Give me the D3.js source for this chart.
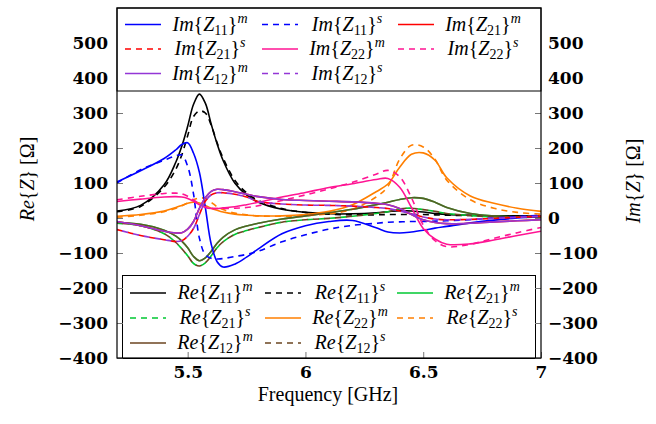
<!DOCTYPE html>
<html>
<head>
<meta charset="utf-8">
<script src="https://cdn.jsdelivr.net/npm/d3@7"></script>
<style>
  body { margin: 0; background: #fff; }
  svg { display: block; }
</style>
</head>
<body>
<svg id="chart" width="656" height="424"></svg>
<script>
// frequency grid (GHz) shared by all traces
const freq = [5.2, 5.3, 5.4, 5.45, 5.475, 5.5, 5.525, 5.55, 5.575, 5.6, 5.625, 5.65, 5.7, 5.75, 5.8,
              5.9, 6.0, 6.1, 6.2, 6.3, 6.35, 6.4, 6.45, 6.5, 6.55, 6.6, 6.7, 6.8, 6.9, 7.0];

// real parts (left axis)
const reZ11m = [20, 36, 95, 160, 205, 262, 325, 354, 328, 268, 212, 165, 100, 66, 45, 25, 16, 12, 12, 15, 18, 21, 20, 17, 13, 10, 8, 6, 6, 5];
const reZ11s = [18, 33, 88, 140, 180, 235, 290, 306, 300, 265, 215, 172, 108, 72, 50, 27, 16, 11, 9, 9, 10, 10, 10, 10, 9, 8, 7, 6, 5, 5];
const reZ21m = [-13, -18, -35, -52, -66, -85, -110, -122, -114, -95, -72, -55, -34, -23, -15, -3, 6, 15, 25, 38, 45, 53, 58, 56, 45, 30, 13, 6, 3, 2];
const reZ21s = [-15, -22, -45, -70, -88, -108, -130, -137, -128, -108, -85, -68, -47, -36, -27, -12, -5, -1, 5, 13, 18, 26, 28, 24, 19, 13, 7, 3, 2, 2];
const reZ22m = [5, 10, 20, 30, 36, 42, 45, 43, 36, 28, 22, 17, 11, 8, 6, 6, 10, 19, 38, 75, 97, 145, 182, 186, 165, 115, 63, 42, 28, 19];
const reZ22s = [2, 8, 18, 28, 35, 43, 52, 57, 56, 45, 32, 24, 14, 9, 6, 5, 7, 12, 25, 60, 90, 168, 208, 203, 168, 108, 52, 28, 16, 11];
const reZ12m = [-13, -18, -35, -52, -66, -85, -110, -122, -114, -95, -72, -55, -34, -23, -15, -3, 6, 15, 25, 38, 45, 53, 58, 56, 45, 30, 13, 6, 3, 2];
const reZ12s = [-15, -22, -45, -70, -88, -108, -130, -137, -128, -108, -85, -68, -47, -36, -27, -12, -5, -1, 5, 13, 18, 26, 28, 24, 19, 13, 7, 3, 2, 2];

// imaginary parts (right axis)
const imZ11m = [103, 135, 170, 195, 210, 215, 185, 130, 30, -75, -125, -140, -132, -112, -88, -45, -22, -10, -7, -28, -40, -43, -40, -35, -29, -24, -14, -6, 0, 5];
const imZ11s = [100, 138, 165, 178, 180, 148, 68, -58, -105, -115, -117, -116, -110, -104, -95, -68, -48, -32, -21, -15, -12, -11, -10, -10, -9, -8, -5, 0, 4, 8];
const imZ21m = [-10, -22, -38, -43, -42, -32, -10, 28, 58, 76, 82, 81, 75, 68, 61, 53, 50, 48, 46, 42, 38, 27, 10, -5, -13, -16, -15, -11, -8, -5];
const imZ21s = [-33, -50, -62, -67, -65, -52, -30, 10, 48, 66, 72, 72, 68, 60, 47, 40, 37, 36, 34, 30, 27, 20, 12, 3, -3, -5, -4, -1, 2, 5];
const imZ22m = [47, 54, 60, 61, 60, 56, 48, 38, 30, 27, 27, 29, 32, 38, 45, 60, 73, 87, 98, 110, 113, 88, 30, -30, -60, -75, -74, -63, -50, -38];
const imZ22s = [52, 62, 70, 71, 69, 62, 52, 40, 32, 28, 27, 27, 28, 30, 35, 50, 66, 83, 102, 125, 136, 118, 58, -20, -65, -82, -75, -58, -42, -27];
const imZ12m = [-10, -22, -38, -43, -42, -32, -10, 28, 58, 76, 82, 81, 75, 68, 61, 53, 50, 48, 46, 42, 38, 27, 10, -5, -13, -16, -15, -11, -8, -5];
const imZ12s = [-33, -50, -62, -67, -65, -52, -30, 10, 48, 66, 72, 72, 68, 60, 47, 40, 37, 36, 34, 30, 27, 20, 12, 3, -3, -5, -4, -1, 2, 5];

const yTicks = [-400, -300, -200, -100, 0, 100, 200, 300, 400, 500];
const xTicks = [5.5, 6, 6.5, 7];

const colors = { blue: "#0000ff", red: "#ff0000", pink: "#ff1493", purple: "#9436d6",
                 black: "#000000", green: "#00c832", orange: "#ff7f00", brown: "#6b4520" };

const reSeries = [
  { part: "Re", sub: "11", sup: "m", values: reZ11m, color: colors.black, dashed: false },
  { part: "Re", sub: "11", sup: "s", values: reZ11s, color: colors.black, dashed: true },
  { part: "Re", sub: "21", sup: "m", values: reZ21m, color: colors.green, dashed: false },
  { part: "Re", sub: "21", sup: "s", values: reZ21s, color: colors.green, dashed: true },
  { part: "Re", sub: "22", sup: "m", values: reZ22m, color: colors.orange, dashed: false },
  { part: "Re", sub: "22", sup: "s", values: reZ22s, color: colors.orange, dashed: true },
  { part: "Re", sub: "12", sup: "m", values: reZ12m, color: colors.brown, dashed: false, op: 0.8 },
  { part: "Re", sub: "12", sup: "s", values: reZ12s, color: colors.brown, dashed: true, offset: 5.5 }
];
const imSeries = [
  { part: "Im", sub: "11", sup: "m", values: imZ11m, color: colors.blue, dashed: false },
  { part: "Im", sub: "11", sup: "s", values: imZ11s, color: colors.blue, dashed: true },
  { part: "Im", sub: "21", sup: "m", values: imZ21m, color: colors.red, dashed: false },
  { part: "Im", sub: "21", sup: "s", values: imZ21s, color: colors.red, dashed: true },
  { part: "Im", sub: "22", sup: "m", values: imZ22m, color: colors.pink, dashed: false },
  { part: "Im", sub: "22", sup: "s", values: imZ22s, color: colors.pink, dashed: true },
  { part: "Im", sub: "12", sup: "m", values: imZ12m, color: colors.purple, dashed: false },
  { part: "Im", sub: "12", sup: "s", values: imZ12s, color: colors.purple, dashed: true, offset: 5.5 }
];

const plotLeft = 117, plotRight = 541, plotTop = 8, plotBottom = 358;
const serif = "Liberation Serif";
const boldSerif = "DejaVu Serif";

const svg = d3.select("#chart");

const x = d3.scaleLinear().domain([5.2, 7]).range([plotLeft, plotRight]);
const yRe = d3.scaleLinear().domain([-400, 600]).range([plotBottom, plotTop]);
const yIm = d3.scaleLinear().domain([-400, 600]).range([plotBottom, plotTop]);

svg.append("defs").append("clipPath").attr("id", "plotClip")
  .append("rect").attr("x", plotLeft).attr("y", plotTop)
  .attr("width", plotRight - plotLeft).attr("height", plotBottom - plotTop);

const plot = svg.append("g").attr("clip-path", "url(#plotClip)");

function drawSeries(list, yScale) {
  const line = d3.line()
    .x((d, i) => x(freq[i]))
    .y(d => yScale(d))
    .curve(d3.curveCatmullRom.alpha(0.5));
  list.forEach(s => {
    plot.append("path")
      .attr("d", line(s.values))
      .attr("fill", "none")
      .attr("stroke", s.color)
      .attr("stroke-opacity", s.op || 1)
      .attr("stroke-width", 1.6)
      .attr("stroke-dasharray", s.dashed ? "6,5" : null)
      .attr("stroke-dashoffset", s.offset || 0);
  });
}
drawSeries(reSeries, yRe);
drawSeries(imSeries, yIm);

// legend label like Im{Z_11}^m
function legendLabel(g, s, cx, cy) {
  const t = g.append("text")
    .attr("x", cx).attr("y", cy + 6)
    .attr("text-anchor", "middle")
    .attr("font-family", serif)
    .attr("font-size", 20);
  t.append("tspan").attr("font-style", "italic").text(s.part);
  t.append("tspan").text("{");
  t.append("tspan").attr("font-style", "italic").text("Z");
  t.append("tspan").attr("dy", 4).attr("font-size", 14).text(s.sub);
  t.append("tspan").attr("dy", -4).text("}");
  t.append("tspan").attr("dy", -8).attr("font-style", "italic").attr("font-size", 14).text(s.sup);
}

function drawLegend(list, box, cols, rows) {
  const g = svg.append("g");
  g.append("rect")
    .attr("x", box.x).attr("y", box.y).attr("width", box.w).attr("height", box.h)
    .attr("fill", "#fff").attr("stroke", "#000").attr("stroke-width", 1);
  list.forEach((s, i) => {
    const cx = cols[i % 3], cy = rows[Math.floor(i / 3)];
    g.append("line")
      .attr("x1", cx).attr("x2", cx + 36).attr("y1", cy).attr("y2", cy)
      .attr("stroke", s.color).attr("stroke-width", 1.6)
      .attr("stroke-dasharray", s.dashed ? "6,5" : null);
    legendLabel(g, s, cx + 85, cy);
  });
}

// bottom legend (Re) sits under the axis ticks
drawLegend(reSeries, { x: 122.5, y: 275.5, w: 413, h: 83 }, [130, 265, 397], [293, 318, 343]);

// axes with inward ticks
const tickFmt = d3.format("");
function styleAxis(g) {
  g.select(".domain").remove();
  g.attr("font-family", boldSerif).attr("font-size", 17).attr("font-weight", "bold");
  g.selectAll(".tick line").attr("stroke", "#777").attr("stroke-width", 1);
  g.selectAll(".tick text").attr("fill", "#000");
}

svg.append("g")
  .attr("transform", `translate(${plotLeft},0)`)
  .call(d3.axisLeft(yRe).tickValues(yTicks).tickSize(-6).tickPadding(9).tickFormat(tickFmt))
  .call(styleAxis);

svg.append("g")
  .attr("transform", `translate(${plotRight},0)`)
  .call(d3.axisRight(yIm).tickValues(yTicks).tickSize(-6).tickPadding(7).tickFormat(tickFmt))
  .call(styleAxis);

svg.append("g")
  .attr("transform", `translate(0,${plotBottom})`)
  .call(d3.axisBottom(x).tickValues(xTicks).tickSize(-6).tickPadding(8).tickFormat(tickFmt))
  .call(styleAxis);

// top legend (Im) covers the upper part of the plot
drawLegend(imSeries, { x: plotLeft, y: plotTop, w: plotRight - plotLeft, h: 83 }, [125, 262, 398], [24.5, 49, 73.5]);

// frame
svg.append("rect")
  .attr("x", plotLeft).attr("y", plotTop)
  .attr("width", plotRight - plotLeft).attr("height", plotBottom - plotTop)
  .attr("fill", "none").attr("stroke", "#000").attr("stroke-width", 1.2);

// axis titles
function zLabel(part, tx, ty, rot) {
  const t = svg.append("text")
    .attr("transform", `translate(${tx},${ty}) rotate(${rot})`)
    .attr("text-anchor", "middle")
    .attr("font-family", serif)
    .attr("font-size", 20);
  t.append("tspan").attr("font-style", "italic").text(part);
  t.append("tspan").text("{");
  t.append("tspan").attr("font-style", "italic").text("Z");
  t.append("tspan").text("} [Ω]");
}
zLabel("Re", 34, 179, -90);
zLabel("Im", 640, 181, -90);

svg.append("text")
  .attr("x", 328).attr("y", 401)
  .attr("text-anchor", "middle")
  .attr("font-family", serif)
  .attr("font-size", 20)
  .text("Frequency [GHz]");
</script>
</body>
</html>
